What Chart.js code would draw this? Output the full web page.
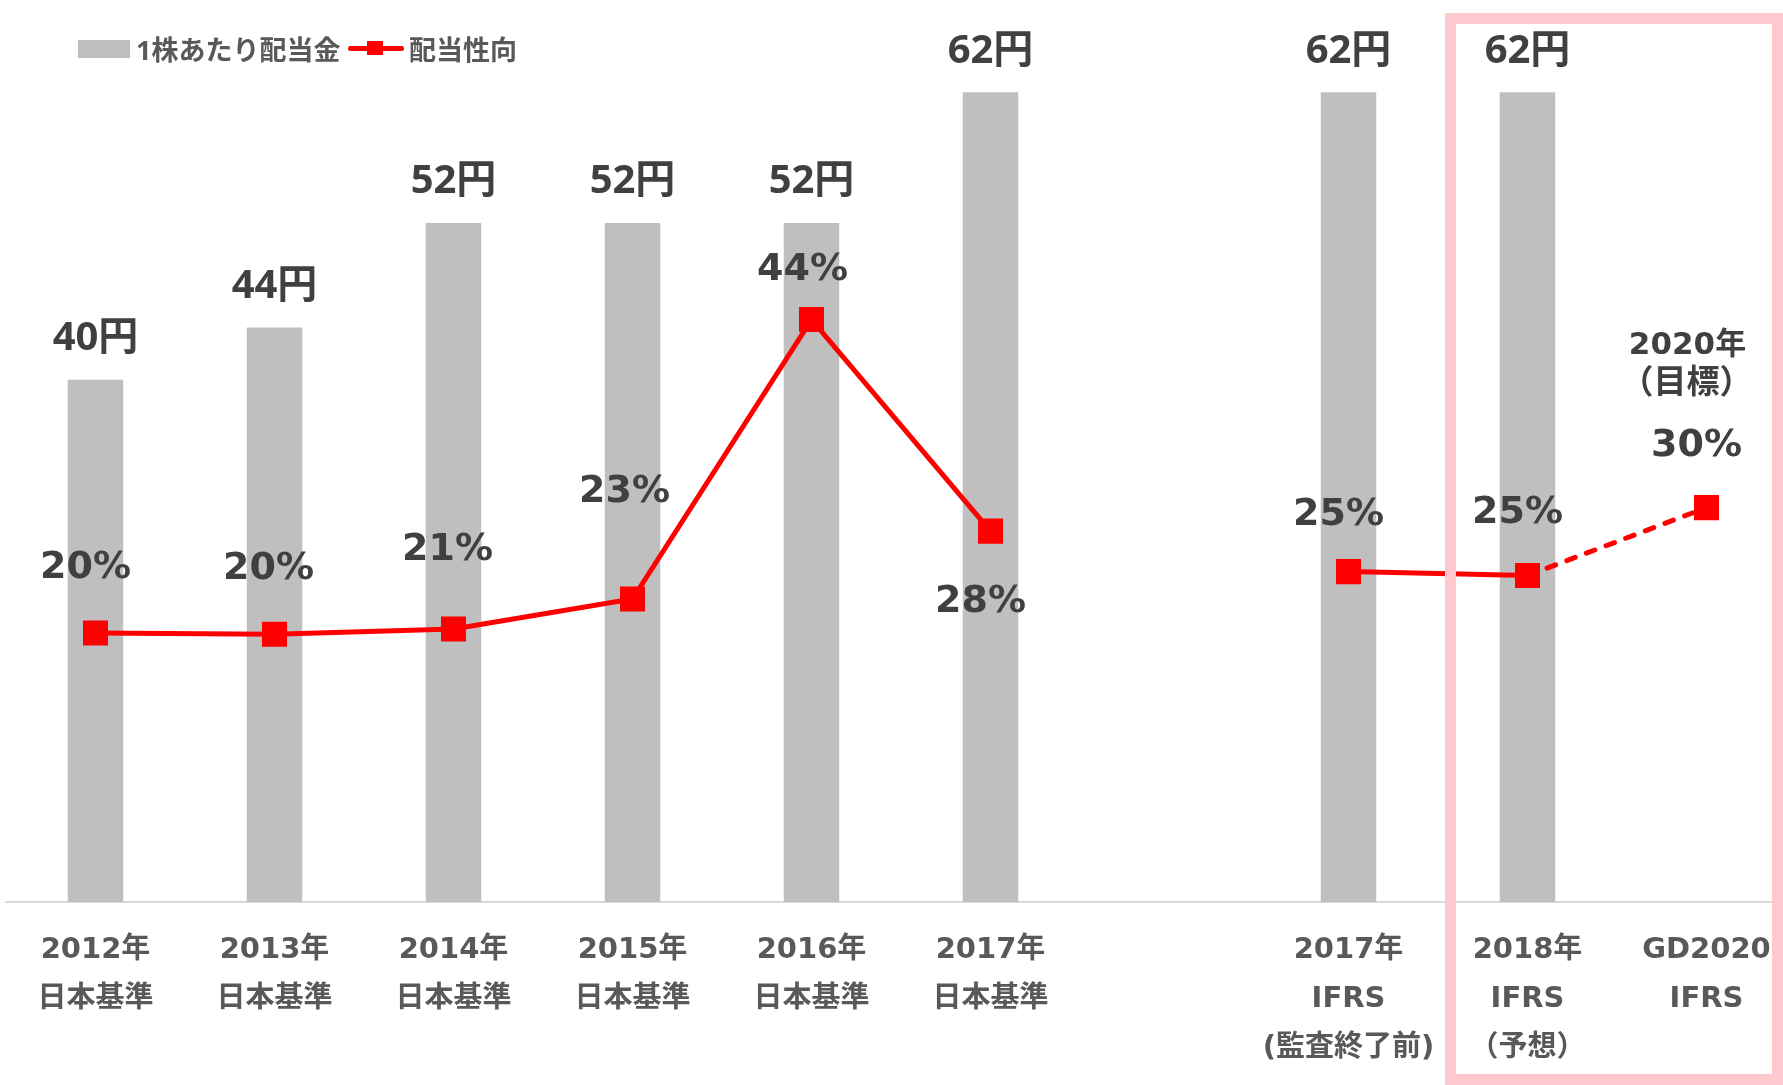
<!DOCTYPE html>
<html>
<head>
<meta charset="utf-8">
<script src="https://cdn.jsdelivr.net/npm/chart.js@4.4.1/dist/chart.umd.min.js"></script>
<style>
  body { margin: 0; background: #fff; overflow: hidden; width: 1783px; height: 1085px; position: relative; }
  #wrap { position: absolute; left: 0; top: 0; width: 1800px; height: 1085px; }
  .lg { position: absolute; font: bold 27px 'Open Sans', 'Noto Sans CJK JP', sans-serif; color: #595959; line-height: 28px; white-space: nowrap; }
</style>
</head>
<body>
<div id="wrap"><canvas id="chart" width="1800" height="1085"></canvas></div>
<div class="lg" style="left:78px;top:40px;width:52px;height:18px;background:#BFBFBF"></div>
<div class="lg" style="left:136px;top:36px">1株あたり配当金</div>
<div class="lg" style="left:348px;top:46px;width:56px;height:5px;background:#FF0000;border-radius:3px"></div>
<div class="lg" style="left:367px;top:41px;width:16px;height:14px;background:#FF0000"></div>
<div class="lg" style="left:409px;top:36px">配当性向</div>
<script>
const categories = [
  ['2012年', '日本基準'],
  ['2013年', '日本基準'],
  ['2014年', '日本基準'],
  ['2015年', '日本基準'],
  ['2016年', '日本基準'],
  ['2017年', '日本基準'],
  '',
  ['2017年', 'IFRS', '(監査終了前)'],
  ['2018年', 'IFRS', '（予想）'],
  ['GD2020', 'IFRS']
]
const dividend = [40, 44, 52, 52, 52, 62, null, 62, 62, null]
const payout = [20.6, 20.5, 20.9, 23.2, 44.6, 28.4, null, 25.3, 25.0, 30.2]
const payoutText = ['20%', '20%', '21%', '23%', '44%', '28%', null, '25%', '25%', '30%']
const targetNote = ['2020年', '（目標）']

// label offsets from each marker, px
const payoutDx = [-10, -6, -6, -8, -9, -10, 0, -10, -10, -10]
const payoutDy = [-65, -65, -79, -107, -49, 71, 0, -56, -62, -61]

const FONT = "'Open Sans', 'Noto Sans CJK JP', sans-serif"
const WIDE = "'DejaVu Sans', 'Noto Sans CJK JP', sans-serif"

const labelPlugin = {
  id: 'labels',
  afterDatasetsDraw(chart) {
    const ctx = chart.ctx
    const x = chart.scales.x
    const step = x.getPixelForValue(9) - x.getPixelForValue(8)
    const lineMeta = chart.getDatasetMeta(0)
    const barMeta = chart.getDatasetMeta(1)

    // pink frame round the forecast
    ctx.save()
    ctx.strokeStyle = '#FFC7CE'
    ctx.lineWidth = 11
    const left = x.getPixelForValue(8) - step / 2 + 12.5
    ctx.strokeRect(left, 18.5, 1777.5 - left, chart.height - 5.5 - 18.5)

    ctx.fillStyle = '#404040'
    ctx.textAlign = 'center'
    ctx.textBaseline = 'middle'
    ctx.font = 'bold 40px ' + FONT
    barMeta.data.forEach((bar, i) => {
      if (dividend[i] == null) return
      ctx.fillText(dividend[i] + '円', bar.x, bar.y - 41)
    })
    ctx.font = 'bold 38px ' + WIDE
    lineMeta.data.forEach((pt, i) => {
      if (payout[i] == null) return
      ctx.fillText(payoutText[i], pt.x + payoutDx[i], pt.y + payoutDy[i])
    })
    const last = lineMeta.data[9]
    ctx.font = 'bold 31px ' + WIDE
    ctx.fillText(targetNote[0], last.x - 19, last.y - 162)
    ctx.font = 'bold 33px ' + FONT
    ctx.fillText(targetNote[1], last.x - 20, last.y - 124)
    ctx.restore()
  }
}

new Chart(document.getElementById('chart'), {
  type: 'bar',
  data: {
    labels: categories,
    datasets: [
      {
        type: 'line',
        label: '配当性向',
        data: payout,
        order: 0,
        borderColor: '#FF0000',
        backgroundColor: '#FF0000',
        borderWidth: 5,
        borderCapStyle: 'round',
        pointStyle: 'rect',
        pointRadius: 17.7,
        pointBorderWidth: 0,
        spanGaps: false,
        segment: {
          borderDash: c => c.p1DataIndex === 9 ? [9, 12] : undefined
        }
      },
      {
        label: '1株あたり配当金',
        data: dividend,
        order: 1,
        backgroundColor: '#BFBFBF',
        barPercentage: 0.31,
        categoryPercentage: 1
      }
    ]
  },
  options: {
    responsive: false,
    animation: false,
    layout: { autoPadding: false, padding: { left: 6, right: 4, top: 14, bottom: 0 } },
    plugins: {
      legend: { display: false },
      tooltip: { enabled: false }
    },
    scales: {
      x: {
        grid: { display: false },
        border: { color: '#D9D9D9', width: 2 },
        ticks: {
          color: '#595959',
          font: { family: WIDE, size: 29, weight: 'bold', lineHeight: 1.69 },
          padding: 16,
          maxRotation: 0,
          autoSkip: false
        },
        afterFit: s => {
          s.height = 183
          s.paddingLeft = 0
          s.paddingRight = 0
        }
      },
      y: {
        display: false,
        min: 0,
        max: 68
      }
    }
  },
  plugins: [labelPlugin]
})
</script>
</body>
</html>
